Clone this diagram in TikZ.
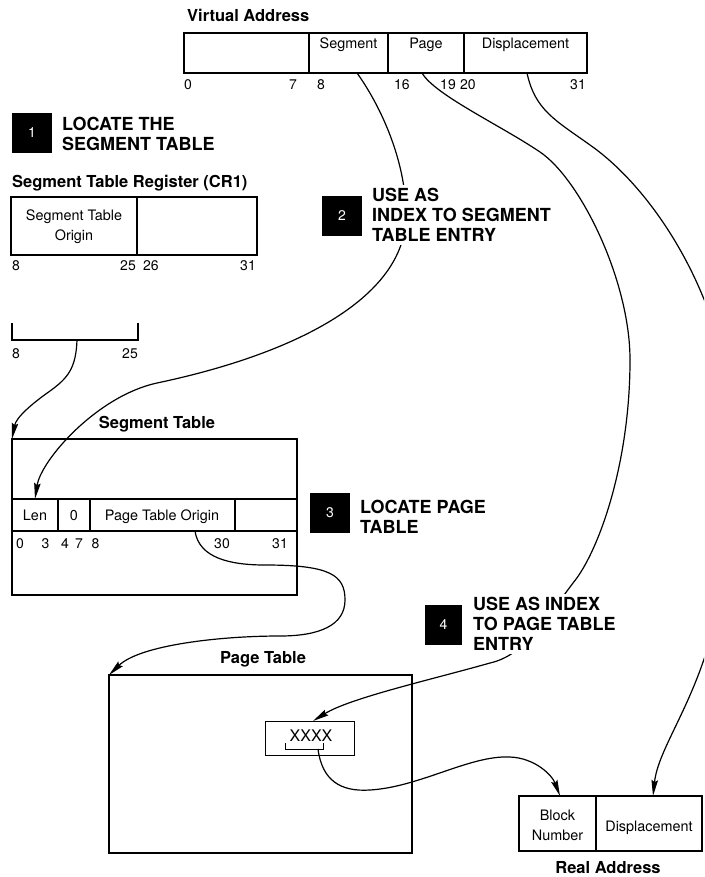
\documentclass[tikz,border=0pt]{standalone}
\usepackage{fontspec}
\setmainfont{TeX Gyre Heros}
\usetikzlibrary{arrows.meta}
\begin{document}
\begin{tikzpicture}[x=1pt,y=-1pt,
  box/.style={line width=1.8pt},
  divider/.style={line width=1.2pt},
  thinbox/.style={line width=0.9pt},
  lbl/.style={font=\fontsize{16.5}{19}\selectfont\bfseries, inner sep=0},
  fld/.style={font=\fontsize{14.4}{20}\selectfont, inner sep=0, align=center},
  num/.style={font=\fontsize{14}{16}\selectfont, inner sep=0},
  steptxt/.style={font=\fontsize{18}{20}\selectfont\bfseries, inner xsep=0, inner ysep=3pt, align=left, anchor=north west, fill=white},
  stepbox/.style={fill=black, text=white, minimum width=40, minimum height=40, font=\fontsize{14}{16}\selectfont, inner sep=0},
  conn/.style={line width=1.2pt},
  arr/.style={conn, -{Stealth[length=16pt,width=6.5pt,inset=2pt]}},
]
\path[use as bounding box] (0,0) rectangle (704,877);
\clip (0,0) rectangle (704,877);

% ---------- Virtual Address ----------
\node[lbl, anchor=base west] (valbl) at (187,22) {Virtual Address};
\draw[box] (184,33) rectangle (587,73);
\draw[divider] (309,33) -- (309,73) (388,33) -- (388,73) (464,33) -- (464,73);
\node[fld, anchor=base] (vaseg) at (348.5,49) {Segment};
\node[fld, anchor=base] (vapage) at (426,49) {Page};
\node[fld, anchor=base] (vadisp) at (525.5,49) {Displacement};
\node[num, anchor=base west] (va0) at (184,90) {0};
\node[num, anchor=base east] (va7) at (297,90) {7};
\node[num, anchor=base west] (va8) at (317,90) {8};
\node[num, anchor=base west] (va16) at (394,90) {16};
\node[num, anchor=base east] (va19) at (456,90) {19};
\node[num, anchor=base west] (va20) at (460,90) {20};
\node[num, anchor=base east] (va31) at (586,90) {31};
\coordinate (segsrc) at (357,73);
\coordinate (pagesrc) at (422,73);
\coordinate (dispsrc) at (527,73);

% ---------- Segment Table Register ----------
\node[lbl, anchor=base west] (strlbl) at (12,188) {Segment Table Register (CR1)};
\draw[box] (11,197) rectangle (257,255);
\draw[divider] (137,197) -- (137,255);
\node[fld, anchor=north] (sto) at (74,210) {Segment Table\\Origin};
\node[num, anchor=base west] (str8) at (12,270) {8};
\node[num, anchor=base east] (str25) at (136,270) {25};
\node[num, anchor=base west] (str26) at (143,270) {26};
\node[num, anchor=base east] (str31) at (256,270) {31};

% ---------- bracket 8..25 ----------
\draw[box] (12,323) -- (12,340) -- (138,340) -- (138,323);
\node[num, anchor=base west] (br8) at (12,358) {8};
\node[num, anchor=base east] (br25) at (138,358) {25};
\coordinate (brsrc) at (77,340);

% ---------- Segment Table ----------
\node[lbl, anchor=base] (stlbl) at (157,428) {Segment Table};
\draw[box] (12,439) rectangle (297,595);
\draw[divider] (12,499) -- (297,499) (12,531) -- (297,531);
\draw[divider] (58,499) -- (58,531) (90,499) -- (90,531) (235,499) -- (235,531);
\node[fld, anchor=base] (stlen) at (35,520) {Len};
\node[fld, anchor=base] (stzero) at (74,520) {0};
\node[fld, anchor=base] (stpto) at (162,520) {Page Table Origin};
\node[num, anchor=base] (st0) at (20,548) {0};
\node[num, anchor=base] (st3) at (45.5,548) {3};
\node[num, anchor=base] (st4) at (65,548) {4};
\node[num, anchor=base] (st7) at (79,548) {7};
\node[num, anchor=base] (st8) at (95.5,548) {8};
\node[num, anchor=base] (st30) at (222,548) {30};
\node[num, anchor=base] (st31) at (280,548) {31};
\coordinate (sttop) at (12,439);
\coordinate (lentop) at (35,499);
\coordinate (ptosrc) at (195,531);

% ---------- Page Table ----------
\node[lbl, anchor=base] (ptlbl) at (263,663) {Page Table};
\draw[box] (109,675) rectangle (412,853);
\draw[thinbox] (265,721) rectangle (354,755);
\node[font=\fontsize{16}{18}\selectfont, inner sep=0, anchor=base] (xxxx) at (311,741) {XXXX};
\draw[thinbox] (285,743) -- (285,749) -- (323,749) -- (323,743);
\coordinate (pttop) at (109,675);
\coordinate (xxtop) at (313,721);
\coordinate (xxsrc) at (318,749);

% ---------- Real Address ----------
\draw[box] (519,796) rectangle (702,851);
\draw[divider] (596,796) -- (596,851);
\node[fld, anchor=north] (blk) at (557.5,810) {Block\\Number};
\node[fld, anchor=base] (rdisp) at (649,831) {Displacement};
\node[lbl, anchor=base] (ralbl) at (608,873) {Real Address};
\coordinate (blktop) at (560,796);
\coordinate (rdisptop) at (653,796);

% ---------- connectors ----------
\draw[arr] (segsrc) .. controls (380,105) and (406,160) .. (406,215)
  .. controls (406,300) and (290,355) .. (157,383)
  .. controls (97,396) and (41,460) .. (lentop);
\draw[arr] (brsrc) .. controls (76,368) and (68,378) .. (50,391)
  .. controls (30,405) and (16,418) .. (sttop);
\draw[arr] (ptosrc) .. controls (199,558) and (230,565) .. (265,565)
  .. controls (330,565) and (345,575) .. (345,600)
  .. controls (345,625) and (320,636) .. (280,636)
  .. controls (220,636) and (140,645) .. (pttop);
\draw[arr] (pagesrc) .. controls (435,95) and (500,125) .. (540,152)
  .. controls (580,179) and (630,280) .. (630,360)
  .. controls (630,465) and (598,553) .. (573,583)
  .. controls (545,620) and (525,655) .. (490,663)
  .. controls (430,680) and (350,698) .. (xxtop);
\draw[arr] (dispsrc) .. controls (535,110) and (555,120) .. (590,145)
  .. controls (640,180) and (690,250) .. (715,330)
  .. controls (740,420) and (730,560) .. (710,640)
  .. controls (690,710) and (658,750) .. (rdisptop);
\draw[arr] (xxsrc) .. controls (322,780) and (340,792) .. (370,790)
  .. controls (420,787) and (470,755) .. (510,757)
  .. controls (535,758) and (552,775) .. (blktop);

% ---------- steps ----------
\node[stepbox] (s1) at (32,133) {1};
\node[steptxt] (t1) at (62,114) {LOCATE THE\\SEGMENT TABLE};
\node[stepbox] (s2) at (342,216) {2};
\node[steptxt] (t2) at (372,185) {USE AS\\INDEX TO SEGMENT\\TABLE ENTRY};
\node[stepbox] (s3) at (330,513) {3};
\node[steptxt] (t3) at (360,497) {LOCATE PAGE\\TABLE};
\node[stepbox, minimum width=37] (s4) at (443.5,625) {4};
\node[steptxt] (t4) at (473,594) {USE AS INDEX\\TO PAGE TABLE\\ENTRY};
\end{tikzpicture}
\end{document}
